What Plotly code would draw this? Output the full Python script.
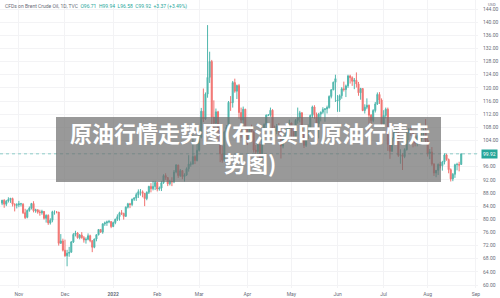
import pandas as pd
import plotly.graph_objects as go

# ---- data (daily OHLC, CFDs on Brent Crude Oil, 20 Oct 2021 - 23 Aug 2022) ----
dates = pd.bdate_range("2021-10-20", "2022-08-23")

open_ = [
    84.9, 85.8, 84.6, 85.6, 86.0, 86.3, 84.5, 84.3,
    84.4, 84.7, 84.6, 82.0, 80.6, 82.7, 83.4, 84.8, 82.6, 82.9, 82.2, 82.0, 82.4, 80.3, 81.2, 78.9, 79.7, 82.3, 82.2, 82.2, 72.7, 73.4,
    70.6, 68.9, 69.7, 70.0, 73.1, 75.4, 75.8, 74.4, 75.2, 74.4, 73.7, 73.9, 75.0, 73.5, 71.5, 74.0, 75.3, 76.9, 76.1, 78.6, 78.9, 79.2, 79.3,
    77.8, 79.0, 80.0, 80.8, 82.0, 81.8, 80.9, 83.7, 84.7, 84.5, 86.1, 86.5, 87.5, 88.4, 88.4, 87.9, 86.3, 88.2, 90.0, 89.3, 90.0,
    91.2, 89.2, 89.5, 91.1, 93.3, 92.7, 90.8, 91.6, 91.4, 94.4, 96.5, 93.3, 94.8, 93.0, 93.5, 95.4, 96.8, 96.8, 99.1, 97.9,
    101.0, 105.0, 112.9, 110.5, 118.1, 123.2, 128.0, 111.1, 109.3, 112.7, 106.9, 99.9, 98.0, 106.6, 107.9, 115.6, 115.5, 121.6, 119.0, 120.7, 112.5, 110.2, 113.5,
    107.9, 104.4, 107.5, 106.6, 101.1, 100.6, 102.8, 98.5, 104.6, 108.8, 111.7, 111.7, 113.2, 107.3, 106.8, 108.3, 106.7, 102.3, 105.0, 105.3, 107.6,
    109.3, 107.6, 105.0, 110.1, 110.9, 112.4, 105.9, 102.5, 107.5, 107.5, 111.6, 114.2, 111.9, 109.1, 112.0, 112.6, 113.4, 113.6, 114.0, 117.4, 119.4, 121.7,
    116.0, 116.3, 117.6, 119.7, 119.5, 120.6, 123.6, 123.1, 122.0, 122.3, 121.2, 118.5, 119.8, 113.1, 114.1, 114.7, 111.7, 110.1, 113.1, 115.1, 118.0, 116.3,
    109.0, 111.6, 113.5, 102.8, 100.7, 104.7, 107.0, 107.1, 99.5, 99.6, 99.1, 101.2, 106.3, 107.4, 106.9, 103.9, 103.2, 105.2, 104.4, 106.6, 107.1,
    104.0, 100.0, 100.5, 96.8, 94.1, 94.9, 96.7, 96.3, 97.4, 99.6, 98.2, 95.1, 92.3, 93.7, 96.6, 96.7, 96.71,
]
high = [
    85.9, 86.1, 85.9, 86.7, 86.4, 86.6, 84.9, 84.9,
    85.6, 85.0, 84.9, 83.2, 83.0, 83.9, 85.0, 85.5, 83.2, 83.0, 82.9, 82.9, 82.5, 81.5, 81.5, 80.3, 82.6, 82.7, 82.5, 82.2, 75.5, 74.1,
    73.8, 70.7, 71.6, 73.4, 75.8, 76.5, 76.1, 75.5, 76.1, 74.9, 74.5, 75.7, 75.3, 73.6, 74.1, 75.4, 76.9, 76.9, 78.8, 79.3, 79.6, 79.8, 79.4,
    79.3, 80.2, 81.5, 82.3, 82.8, 82.0, 83.9, 85.0, 85.0, 86.3, 86.7, 88.1, 89.1, 89.2, 88.8, 88.0, 88.5, 90.2, 91.0, 91.7, 91.7,
    91.2, 90.0, 91.7, 93.7, 94.0, 92.8, 92.0, 92.8, 95.0, 96.8, 96.6, 95.3, 95.0, 94.0, 95.8, 99.5, 97.6, 105.8, 99.5, 105.0,
    107.3, 113.9, 119.8, 118.6, 139.1, 131.0, 128.5, 116.2, 113.7, 113.0, 107.0, 102.4, 107.0, 108.7, 116.0, 117.5, 122.1, 122.8, 121.0, 121.2, 114.0, 114.3, 113.6,
    108.0, 108.0, 108.8, 107.0, 102.6, 103.4, 102.9, 105.1, 109.2, 111.9, 112.0, 114.0, 113.5, 108.5, 109.0, 109.3, 106.9, 105.6, 106.2, 108.0, 110.3,
    109.4, 108.2, 110.5, 114.0, 113.0, 112.6, 106.7, 107.9, 108.9, 111.9, 114.6, 114.7, 112.5, 112.4, 112.8, 114.1, 113.8, 114.6, 117.7, 119.6, 121.9, 124.0,
    117.8, 118.0, 120.2, 121.9, 121.0, 124.0, 124.0, 123.5, 123.0, 124.7, 121.8, 120.0, 119.9, 115.0, 116.8, 114.9, 112.0, 113.5, 115.7, 118.6, 118.7, 116.8,
    113.2, 114.0, 114.0, 104.5, 104.9, 107.4, 107.8, 107.4, 101.3, 100.1, 101.6, 106.5, 107.8, 108.0, 107.0, 105.5, 105.7, 105.7, 107.0, 107.5, 110.5,
    105.0, 101.4, 102.0, 97.1, 95.0, 97.0, 97.5, 97.8, 100.0, 99.9, 98.5, 95.5, 94.1, 96.9, 97.2, 97.5, 99.94,
]
low = [
    84.3, 83.5, 84.0, 85.1, 85.0, 83.9, 82.4, 83.3,
    83.7, 83.9, 81.6, 80.1, 80.3, 82.3, 83.0, 82.1, 82.0, 81.7, 81.1, 81.4, 79.9, 79.0, 78.3, 78.4, 79.1, 81.4, 81.8, 72.0, 72.5, 70.2,
    68.6, 65.7, 68.6, 69.8, 72.8, 74.8, 74.1, 73.9, 74.1, 72.9, 72.6, 73.6, 73.0, 70.0, 71.2, 73.3, 75.1, 75.9, 75.6, 78.0, 78.0, 78.8, 77.3,
    77.6, 78.5, 79.5, 79.6, 81.3, 79.9, 80.7, 83.3, 83.4, 84.0, 85.6, 85.6, 86.5, 87.2, 86.7, 84.0, 85.8, 87.7, 88.2, 88.8, 88.9,
    88.5, 88.7, 88.6, 90.8, 92.0, 90.1, 90.3, 90.1, 91.0, 94.0, 92.6, 92.9, 92.2, 91.5, 93.2, 94.5, 96.0, 96.7, 96.8, 97.6,
    100.6, 104.6, 109.6, 110.2, 117.0, 121.5, 108.5, 107.5, 108.2, 103.9, 97.4, 97.2, 97.6, 104.5, 106.4, 113.0, 114.0, 118.5, 116.6, 110.6, 104.8, 109.0, 105.2,
    102.6, 103.5, 104.8, 100.3, 98.8, 99.4, 97.6, 98.2, 103.5, 107.8, 111.4, 111.2, 106.4, 105.4, 105.9, 105.7, 98.5, 101.6, 103.2, 104.0, 106.8,
    104.2, 104.4, 104.8, 109.1, 109.5, 105.0, 101.7, 102.0, 104.4, 107.0, 110.8, 110.6, 108.1, 104.6, 109.8, 112.1, 109.7, 112.2, 113.7, 116.8, 119.3, 115.7,
    112.7, 112.7, 116.7, 118.9, 117.2, 120.0, 121.3, 120.6, 119.6, 120.1, 117.6, 116.4, 112.9, 112.2, 113.5, 105.9, 108.8, 109.5, 112.5, 114.8, 115.1, 108.7,
    108.0, 110.7, 100.8, 98.4, 100.5, 103.7, 103.7, 99.0, 96.9, 95.0, 98.6, 100.9, 104.1, 105.4, 101.9, 102.2, 102.2, 103.5, 102.9, 104.8, 103.5,
    99.1, 98.3, 96.3, 93.2, 92.8, 93.5, 95.5, 94.8, 96.7, 97.8, 94.0, 91.5, 91.6, 92.6, 94.9, 94.6, 96.58,
]
close = [
    85.8, 84.6, 85.5, 86.0, 86.4, 84.6, 84.3, 84.4,
    84.7, 84.7, 82.0, 80.5, 82.7, 83.4, 84.8, 82.6, 82.9, 82.2, 82.1, 82.4, 80.3, 81.2, 78.9, 79.7, 82.3, 82.3, 82.2, 72.7, 73.4, 70.6,
    68.9, 69.7, 69.9, 73.1, 75.4, 75.8, 74.4, 75.2, 74.4, 73.7, 73.9, 75.0, 73.5, 71.5, 74.0, 75.3, 76.9, 76.1, 78.6, 78.9, 79.2, 79.3, 77.8,
    79.0, 80.0, 80.8, 82.0, 81.8, 80.9, 83.7, 84.7, 84.5, 86.1, 86.5, 87.5, 88.4, 88.4, 87.9, 86.3, 88.2, 90.0, 89.3, 90.0, 91.2,
    89.2, 89.5, 91.1, 93.3, 92.7, 90.8, 91.6, 91.4, 94.4, 96.5, 93.3, 94.8, 93.0, 93.5, 95.4, 96.8, 96.8, 99.1, 97.9, 101.0,
    105.0, 112.9, 110.5, 118.1, 123.2, 128.0, 111.1, 109.3, 112.7, 106.9, 99.9, 98.0, 106.6, 107.9, 115.6, 115.5, 121.6, 119.0, 120.7, 112.5, 110.2, 113.5, 107.9,
    104.4, 107.5, 106.6, 101.1, 100.6, 102.8, 98.5, 104.6, 108.8, 111.7, 111.7, 113.2, 107.3, 106.8, 108.3, 106.7, 102.3, 105.0, 105.3, 107.6, 109.3,
    107.6, 105.0, 110.1, 110.9, 112.4, 105.9, 102.5, 107.5, 107.5, 111.6, 114.2, 111.9, 109.1, 112.0, 112.6, 113.4, 113.6, 114.0, 117.4, 119.4, 121.7, 122.8,
    116.3, 117.6, 119.7, 119.5, 120.6, 123.6, 123.1, 122.0, 122.3, 121.2, 118.5, 119.8, 113.1, 114.1, 114.7, 111.7, 110.1, 113.1, 115.1, 118.0, 116.3, 109.0,
    111.6, 113.5, 102.8, 100.7, 104.7, 107.0, 107.1, 99.5, 99.6, 99.1, 101.2, 106.3, 107.4, 106.9, 103.9, 103.2, 105.2, 104.4, 106.6, 107.1, 104.0,
    100.0, 100.5, 96.8, 94.1, 94.9, 96.7, 96.3, 97.4, 99.6, 98.2, 95.1, 92.3, 93.7, 96.6, 96.7, 96.5, 99.92,
]

tick_dates = ["2021-11-01", "2021-12-01", "2022-01-03", "2022-02-01", "2022-03-01", "2022-04-01",
              "2022-05-02", "2022-06-01", "2022-07-01", "2022-08-01", "2022-09-01"]
tick_labels = ["Nov", "Dec", "<b>2022</b>", "Feb", "Mar", "Apr", "May", "Jun", "Jul", "Aug", "Sep"]
y_ticks = list(range(60, 145, 4))

last_price = 99.92
title_line1 = "原油行情走势图(布油实时原油行情走"
title_line2 = "势图)"
legend_text = ("CFDs on Brent Crude Oil, 1D, TVC  "
               "<span style='color:#26a69a'>O96.71  H99.94  L96.58  C99.92  +3.37 (+3.49%)</span>")

n = min(len(dates), len(open_), len(high), len(low), len(close))

UP = "#26a69a"
DOWN = "#ef5350"

fig = go.Figure(go.Candlestick(
    x=dates[:n], open=open_[:n], high=high[:n], low=low[:n], close=close[:n],
    increasing=dict(line=dict(color=UP, width=1), fillcolor=UP),
    decreasing=dict(line=dict(color=DOWN, width=1), fillcolor=DOWN),
    whiskerwidth=0, opacity=0.8, showlegend=False, hoverinfo="skip",
))

W, H = 500, 298
ML, MR, MT, MB = 0, 22, 0, 10
PW, PH = W - ML - MR, H - MT - MB

def px_x(x):
    return (x - ML) / PW

def px_y(y):
    return 1 - (y - MT) / PH

# the 100.00 label is covered by the last-price tag in the reference
y_text = ["" if v == 100 else f"{v:.2f}" for v in y_ticks]

fig.update_layout(
    width=W, height=H,
    margin=dict(l=ML, r=MR, t=MT, b=MB, pad=0),
    paper_bgcolor="white", plot_bgcolor="white",
    font=dict(family="Roboto, Arial, sans-serif", size=5, color="#7a7d86"),
    showlegend=False,
    xaxis=dict(
        type="date",
        range=["2021-10-19", "2022-09-02"],
        rangebreaks=[dict(bounds=["sat", "mon"])],
        rangeslider=dict(visible=False),
        tickvals=tick_dates, ticktext=tick_labels,
        showgrid=True, gridcolor="#f3f3f5", gridwidth=1,
        zeroline=False, showline=False, ticks="",
        tickfont=dict(size=5, color="#6a6d78"),
        ticklabelstandoff=2,
    ),
    yaxis=dict(
        side="right",
        range=[59.09, 146.74],
        tickvals=y_ticks, ticktext=y_text,
        showgrid=True, gridcolor="#f3f3f5", gridwidth=1,
        zeroline=False, showline=False, ticks="",
        tickfont=dict(size=5, color="#6a6d78"),
        ticklabelstandoff=4,
    ),
)

# last price dotted line
fig.add_shape(type="line", xref="paper", x0=0, x1=1, yref="y", y0=last_price, y1=last_price,
              line=dict(color=UP, width=1, dash="dot"), opacity=0.5)

# last price label
fig.add_annotation(xref="paper", x=1, xanchor="left", xshift=3, yref="y", y=last_price,
                   text=f"{last_price:.2f}", showarrow=False, bgcolor=UP, borderpad=1,
                   font=dict(size=5, color="white"))

# header text
fig.add_annotation(xref="paper", yref="paper", x=0, y=1, xanchor="left", yanchor="top",
                   xshift=3, yshift=-1, text=legend_text, showarrow=False,
                   font=dict(size=5, color="#6a6d78"))
fig.add_annotation(xref="paper", yref="paper", x=1, y=1, xanchor="left", yanchor="top",
                   xshift=8, yshift=0, text="USD", showarrow=False,
                   font=dict(size=4, color="#6a6d78"))

# grey title overlay
fig.add_shape(type="rect", xref="paper", yref="paper",
              x0=px_x(56), x1=px_x(441), y0=px_y(182), y1=px_y(117),
              fillcolor="rgba(110,110,110,0.7)", line=dict(width=0), layer="above")
fig.add_annotation(xref="paper", yref="paper", x=px_x(250), y=px_y(132),
                   text=f"<b>{title_line1}</b>", showarrow=False,
                   font=dict(family="Noto Sans CJK SC", size=22, color="white"))
fig.add_annotation(xref="paper", yref="paper", x=px_x(250), y=px_y(162),
                   text=f"<b>{title_line2}</b>", showarrow=False,
                   font=dict(family="Noto Sans CJK SC", size=22, color="white"))

fig.write_html("out.html")
